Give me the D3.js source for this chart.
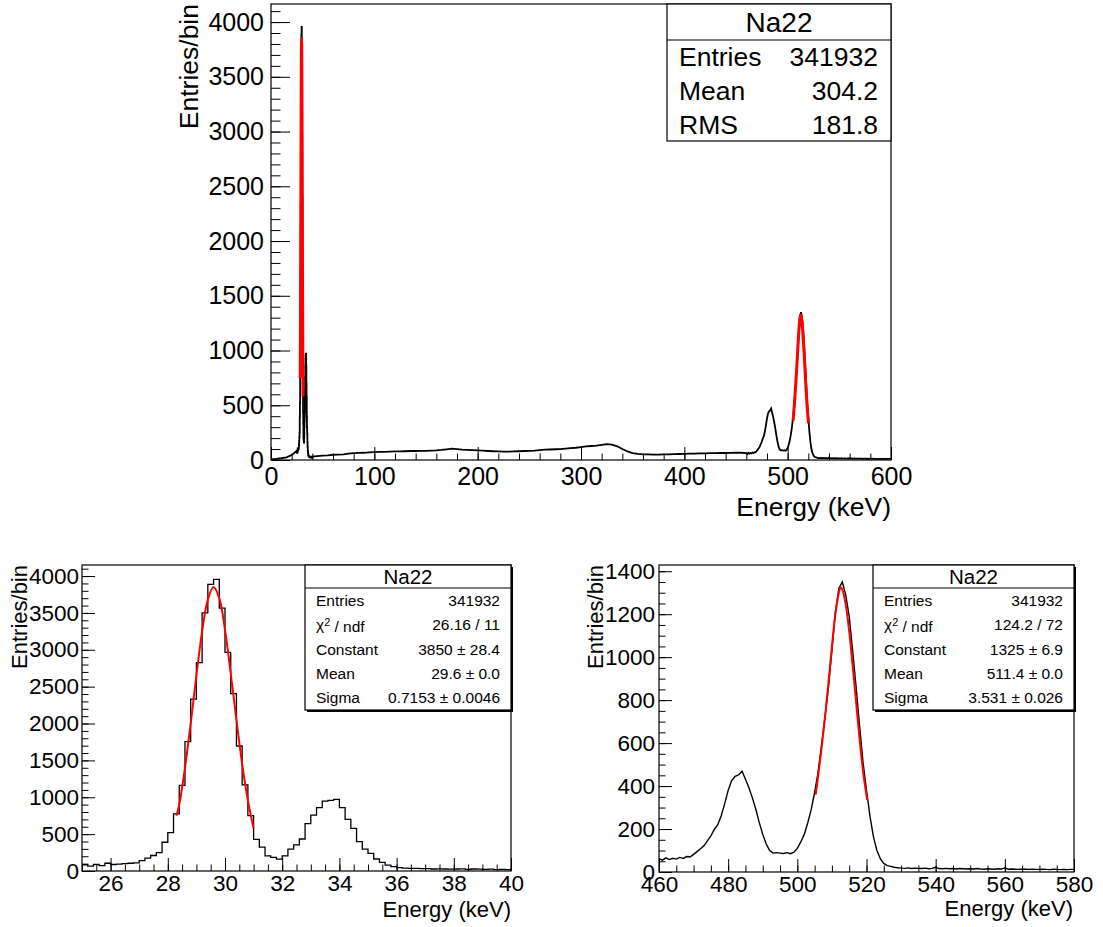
<!DOCTYPE html>
<html><head><meta charset="utf-8">
<script src="https://cdn.jsdelivr.net/npm/d3@7"></script>
<style>
body{margin:0;background:#fff;}
svg{display:block;}
text{font-family:"Liberation Sans",Arial,Helvetica,sans-serif;fill:#000;}
</style>
</head><body>
<svg id="c" width="1103" height="927"></svg>
<script>
// ---------------- DATA ----------------
// fine bins, 0.2 keV wide, from 25.0 keV (counts per bin)
const lowStart = 25, lowWidth = 0.2;
const lowCounts = [
  85,65,88,72,105,88,92,100,105,110,140,175,210,250,390,
  520,775,1160,1755,2330,2825,3500,3888,3955,3564,
  2965,2405,1695,1168,750,430,325,205,185,160,
  205,298,353,434,642,759,859,949,958,972,
  859,700,579,398,298,240,163,118,81,59,
  45,40,36,36,32,32,27,30,27,25,
  27,30,23,27,25,22,25,20,22,20];
// readings of the 0.2 keV-bin spectrum every 1 keV, at 460, 461, ... 579 keV
const peakE0 = 460, peakStep = 1;
const peakCounts = [
  62,55,66,58,64,60,68,63,72,70,
  82,95,108,122,145,168,198,220,262,318,
  380,425,445,452,470,432,392,345,292,230,
  175,130,100,88,90,88,86,90,85,92,
  110,140,175,228,290,370,465,590,720,860,
  1030,1210,1320,1350,1290,1190,1030,860,680,510,
  380,260,165,100,62,40,30,26,22,20,
  18,17,19,16,18,17,16,18,15,17,
  22,16,15,17,15,16,14,16,15,14,
  15,14,16,14,13,15,14,13,15,14,
  19,13,14,13,12,14,13,12,13,12,
  12,13,12,11,13,12,11,12,11,12];
// continuum readings every 5 keV
const contStep = 5;
const contLowE0 = 0;
const contLowCounts = [6,10,16,24,45];
const contMidE0 = 40;
const contMidCounts = [
  32,36,40,42,48,50,52,58,62,65,66,70,
  72,74,75,76,78,78,80,82,82,84,84,86,88,92,98,104,100,95,92,90,
  88,85,82,80,78,76,76,78,80,82,84,86,90,94,96,98,100,104,108,112,
  118,124,128,132,138,145,140,125,100,78,
  62,55,52,52,50,50,52,52,54,55,
  56,58,58,60,60,62,62,64,64,65,66,66];
const contHighE0 = 580;
const contHighCounts = [12,11,10,10,10];
// fitted gaussian curves
const fitLowE = [28.3,28.4,28.6,28.8,29.0,29.2,29.4,29.6,29.8,30.0,30.2,30.4,30.6,30.8,31.0];
const fitLowY = [750,900,1400,2000,2650,3250,3680,3850,3700,3270,2680,2050,1450,960,580];
const fitPeakE = [505.3,506,507,508,509,510,511,512,512.5,513,514,515,516,517,518,519,520.2];
const fitPeakY = [360,445,575,720,880,1050,1200,1300,1325,1315,1245,1120,960,790,620,470,336];
// tick labels
const topXTicks = [0,100,200,300,400,500,600];
const topYTicks = [0,500,1000,1500,2000,2500,3000,3500,4000];
const blXTicks = [26,28,30,32,34,36,38,40];
const blYTicks = [0,500,1000,1500,2000,2500,3000,3500,4000];
const brXTicks = [460,480,500,520,540,560,580];
const brYTicks = [0,200,400,600,800,1000,1200,1400];
// stats boxes
const statsTitle = "Na22";
const statsTopLabels = ["Entries","Mean","RMS"];
const statsTopValues = ["341932","304.2","181.8"];
const statsBLLabels = ["Entries","χ2 / ndf","Constant","Mean","Sigma"];
const statsBLValues = ["341932","26.16 / 11","3850 ± 28.4","29.6 ± 0.0","0.7153 ± 0.0046"];
const statsBRLabels = ["Entries","χ2 / ndf","Constant","Mean","Sigma"];
const statsBRValues = ["341932","124.2 / 72","1325 ± 6.9","511.4 ± 0.0","3.531 ± 0.026"];
const xTitle = "Energy (keV)";
const yTitle = "Entries/bin";

// ---------------- build spectrum outline ----------------
// fine bins drawn as histogram steps, sampled readings drawn through their energies
function steps(start, w, counts){ const p=[]; counts.forEach((c,i)=>{p.push([start+i*w,c]);p.push([start+(i+1)*w,c]);}); return p; }
function samples(e0, step, counts){ return counts.map((c,i)=>[e0+i*step,c]); }
const spectrum = [].concat(
  samples(contLowE0, contStep, contLowCounts),
  steps(lowStart, lowWidth, lowCounts),
  samples(contMidE0, contStep, contMidCounts),
  samples(peakE0, peakStep, peakCounts),
  samples(contHighE0, contStep, contHighCounts)
);
const fitLow = fitLowE.map((e,i)=>[e,fitLowY[i]]);
const fitPeak = fitPeakE.map((e,i)=>[e,fitPeakY[i]]);

const svg = d3.select("#c");
let clipId = 0;

function panel(cfg){
  const x = d3.scaleLinear().domain(cfg.xDom).range([cfg.l, cfg.r]);
  const y = d3.scaleLinear().domain(cfg.yDom).range([cfg.b, cfg.t]);
  const g = svg.append("g");
  const id = "clip"+(clipId++);
  g.append("clipPath").attr("id",id).append("rect")
    .attr("x",cfg.l).attr("y",cfg.t).attr("width",cfg.r-cfg.l).attr("height",cfg.b-cfg.t);

  const pts = spectrum.filter(d=>d[0]>=cfg.xDom[0]-6 && d[0]<=cfg.xDom[1]+6);
  const line = d3.line().x(d=>x(d[0])).y(d=>y(d[1]));
  const gc = g.append("g").attr("clip-path","url(#"+id+")");
  gc.append("path").attr("d",line(pts)).attr("fill","none").attr("stroke","#000")
    .attr("stroke-width",cfg.histW).attr("stroke-linejoin","miter");
  const fline = d3.line().x(d=>x(d[0])).y(d=>y(d[1])).curve(d3.curveCatmullRom);
  cfg.fits.forEach(f=>{
    gc.append("path").attr("d",fline(f)).attr("fill","none").attr("stroke","#ff0000").attr("stroke-width",cfg.fitW);
  });

  // axes
  const ax = (gen, sel)=>{ sel.call(gen); sel.select(".domain").remove(); sel.selectAll("line").attr("stroke","#000"); };
  const xMinor = d3.axisBottom(x).tickValues(d3.range(cfg.xDom[0], cfg.xDom[1]+1e-9, cfg.xMinorStep)).tickFormat("").tickSize(-cfg.xMinorLen);
  ax(xMinor, g.append("g").attr("transform","translate(0,"+cfg.b+")"));
  const xMajor = d3.axisBottom(x).tickValues(cfg.xTicks).tickFormat(d3.format("d")).tickSize(-cfg.xMajorLen).tickPadding(cfg.xPad);
  const gx = g.append("g").attr("transform","translate(0,"+cfg.b+")");
  ax(xMajor, gx);
  gx.selectAll("text").attr("font-size",cfg.labelSize).style("font-family",'"Liberation Sans",Arial,sans-serif');
  const yMinor = d3.axisLeft(y).tickValues(d3.range(0, cfg.yDom[1], cfg.yMinorStep)).tickFormat("").tickSize(-cfg.yMinorLen);
  ax(yMinor, g.append("g").attr("transform","translate("+cfg.l+",0)"));
  const yMajor = d3.axisLeft(y).tickValues(cfg.yTicks).tickFormat(d3.format("d")).tickSize(-cfg.yMajorLen).tickPadding(cfg.yPad);
  const gy = g.append("g").attr("transform","translate("+cfg.l+",0)");
  ax(yMajor, gy);
  gy.selectAll("text").attr("font-size",cfg.labelSize).style("font-family",'"Liberation Sans",Arial,sans-serif');

  // frame
  g.append("rect").attr("x",cfg.l).attr("y",cfg.t).attr("width",cfg.r-cfg.l).attr("height",cfg.b-cfg.t)
    .attr("fill","none").attr("stroke","#000").attr("stroke-width",1.2);

  // titles
  g.append("text").attr("x",cfg.xTitleX).attr("y",cfg.xTitleY).attr("text-anchor","end")
    .attr("font-size",cfg.titleSize).text(xTitle);
  g.append("text").attr("transform","translate("+cfg.yTitleX+","+cfg.yTitleY+") rotate(-90)")
    .attr("text-anchor","end").attr("font-size",cfg.titleSize).text(yTitle);

  // stats box
  const s = cfg.stats;
  const sg = g.append("g");
  if (s.shadow) {
    sg.append("rect").attr("x",s.l+2).attr("y",s.t+2).attr("width",s.r-s.l).attr("height",s.b-s.t).attr("fill","#000");
  }
  sg.append("rect").attr("x",s.l).attr("y",s.t).attr("width",s.r-s.l).attr("height",s.b-s.t)
    .attr("fill","#fff").attr("stroke","#000").attr("stroke-width",1.2);
  sg.append("line").attr("x1",s.l).attr("x2",s.r).attr("y1",s.h).attr("y2",s.h).attr("stroke","#000").attr("stroke-width",1.2);
  sg.append("text").attr("x",(s.l+s.r)/2).attr("y",(s.t+s.h)/2).attr("dy","0.36em")
    .attr("text-anchor","middle").attr("font-size",s.headSize).text(statsTitle);
  const rh = (s.b - s.h)/s.labels.length;
  s.labels.forEach((lab,i)=>{
    const cy = s.h + rh*(i+0.5);
    const t = sg.append("text").attr("x",s.l+s.padL).attr("y",cy).attr("dy","0.36em").attr("font-size",s.size);
    if (lab.startsWith("χ2")) {
      t.append("tspan").text("χ");
      t.append("tspan").attr("dy","-0.4em").attr("font-size",s.size*0.7).text("2");
      t.append("tspan").attr("dy","0.4em").text(" / ndf");
    } else t.text(lab);
    sg.append("text").attr("x",s.r-s.padR).attr("y",cy).attr("dy","0.36em").attr("text-anchor","end")
      .attr("font-size",s.size).text(s.values[i]);
  });
}

panel({
  l:271, r:891, t:4, b:460, xDom:[0,600], yDom:[0,4165],
  xTicks:topXTicks, yTicks:topYTicks, xMinorStep:20, yMinorStep:100,
  xMajorLen:13, xMinorLen:6.5, yMajorLen:19, yMinorLen:9.5,
  xPad:7, yPad:7, labelSize:25, titleSize:26.5,
  xTitleX:891, xTitleY:516, yTitleX:198, yTitleY:4,
  histW:1.8, fitW:3, fits:[fitLow, fitPeak],
  stats:{l:667, r:891, t:4, h:40, b:141, headSize:28, size:26.5, padL:12, padR:13,
         labels:statsTopLabels, values:statsTopValues, shadow:false}
});
panel({
  l:82, r:511, t:565, b:871, xDom:[25,40], yDom:[0,4150],
  xTicks:blXTicks, yTicks:blYTicks, xMinorStep:0.5, yMinorStep:100,
  xMajorLen:13, xMinorLen:6.5, yMajorLen:13, yMinorLen:6.5,
  xPad:4, yPad:3, labelSize:22.5, titleSize:22,
  xTitleX:511, xTitleY:917, yTitleX:27, yTitleY:565,
  histW:1.3, fitW:2, fits:[fitLow],
  stats:{l:305, r:511, t:565, h:588, b:710, headSize:20.5, size:15.5, padL:11, padR:11,
         labels:statsBLLabels, values:statsBLValues, shadow:true}
});
panel({
  l:659, r:1074, t:565, b:872, xDom:[460,580], yDom:[0,1429],
  xTicks:brXTicks, yTicks:brYTicks, xMinorStep:5, yMinorStep:50,
  xMajorLen:13, xMinorLen:6.5, yMajorLen:13, yMinorLen:6.5,
  xPad:4, yPad:4, labelSize:22.5, titleSize:22,
  xTitleX:1073, xTitleY:916, yTitleX:603, yTitleY:565,
  histW:1.4, fitW:2, fits:[fitPeak],
  stats:{l:873, r:1074, t:565, h:588, b:710, headSize:20.5, size:15.5, padL:11, padR:11,
         labels:statsBRLabels, values:statsBRValues, shadow:true}
});
</script>
</body></html>
